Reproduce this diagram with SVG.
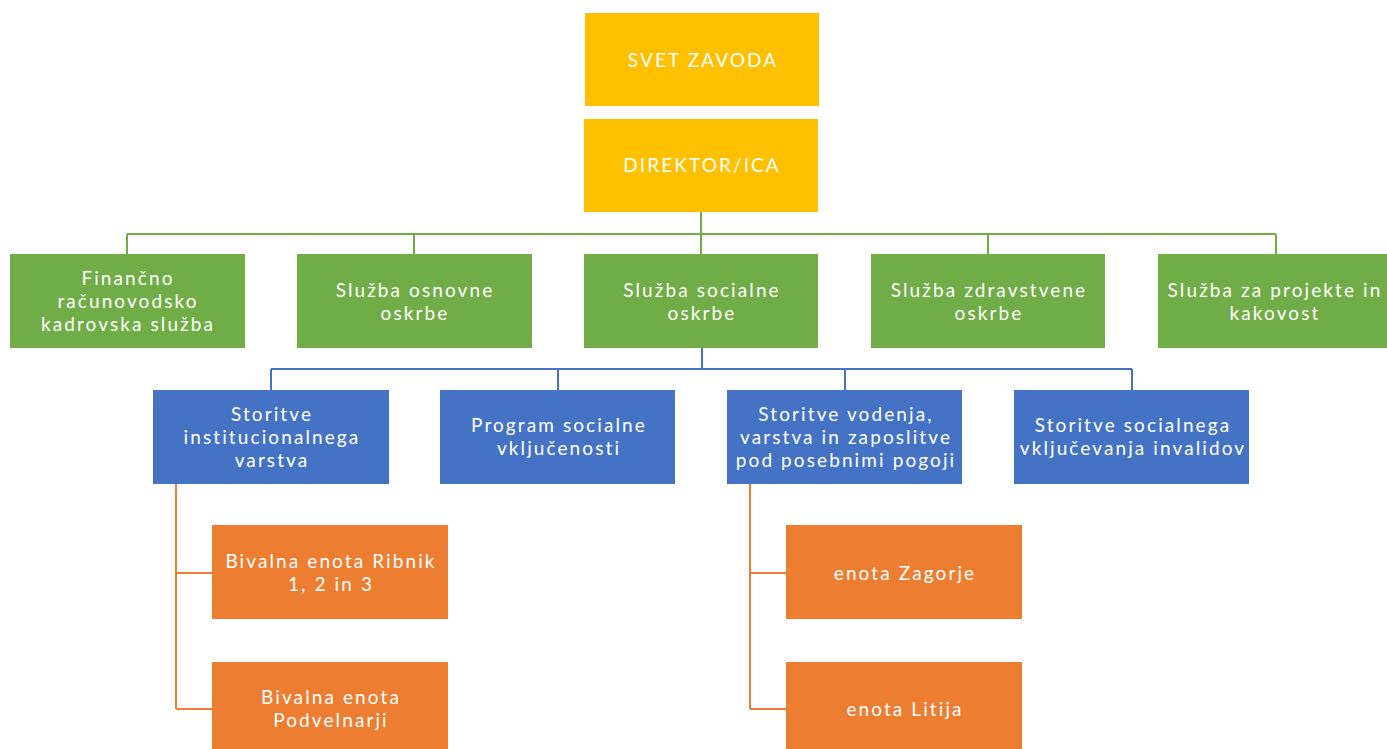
<svg xmlns="http://www.w3.org/2000/svg" width="1387" height="749" viewBox="0 0 1387 749">
<style>
text{font-family:Lato,"Open Sans","DejaVu Sans",sans-serif;font-size:19px;fill:#fff;text-anchor:middle;dominant-baseline:central;letter-spacing:2.1px}
.gold{fill:#FFC000}
.green{fill:#70AD47}
.blue{fill:#4472C4}
.orange{fill:#ED7D31}
.lg{stroke:#70AD47;stroke-width:2;fill:none}
.lb{stroke:#4472C4;stroke-width:2;fill:none}
.lo{stroke:#ED7D31;stroke-width:2;fill:none}
</style>
<rect width="1387" height="749" fill="#fff"/>
<g id="connectors">
<path class="lg" d="M701 212V254M127 234H1276M127 234V254M414 234V254M988 234V254M1276 234V254"/>
<path class="lb" d="M702 348V369M271 369H1132M271 369V390M558 369V390M845 369V390M1132 369V390"/>
<path class="lo" d="M176 484V709M176 573H212M176 709H212"/>
<path class="lo" d="M750 484V709M750 573H786M750 709H786"/>
</g>
<g id="svet"><rect class="gold" x="585" y="13" width="234" height="93"/><text x="703" y="59">SVET ZAVODA</text></g>
<g id="direktor"><rect class="gold" x="584" y="119" width="234" height="93"/><text x="702" y="164">DIREKTOR/ICA</text></g>
<g id="financno"><rect class="green" x="10" y="254" width="235" height="94"/><text x="128" y="277">Finančno</text><text x="128" y="300">računovodsko</text><text x="128" y="323">kadrovska služba</text></g>
<g id="osnovne"><rect class="green" x="297" y="254" width="235" height="94"/><text x="415" y="289">Služba osnovne</text><text x="415" y="312">oskrbe</text></g>
<g id="socialne"><rect class="green" x="584" y="254" width="234" height="94"/><text x="702" y="289">Služba socialne</text><text x="702" y="312">oskrbe</text></g>
<g id="zdravstvene"><rect class="green" x="871" y="254" width="234" height="94"/><text x="989" y="289">Služba zdravstvene</text><text x="989" y="312">oskrbe</text></g>
<g id="projekte"><rect class="green" x="1158" y="254" width="229" height="94"/><text x="1275" y="289">Služba za projekte in</text><text x="1275" y="312">kakovost</text></g>
<g id="institucionalnega"><rect class="blue" x="153" y="390" width="236" height="94"/><text x="272" y="413">Storitve</text><text x="272" y="436">institucionalnega</text><text x="272" y="459">varstva</text></g>
<g id="program"><rect class="blue" x="440" y="390" width="235" height="94"/><text x="559" y="424">Program socialne</text><text x="559" y="447">vključenosti</text></g>
<g id="vodenja"><rect class="blue" x="727" y="390" width="235" height="94"/><text x="846" y="413">Storitve vodenja,</text><text x="846" y="436">varstva in zaposlitve</text><text x="846" y="459">pod posebnimi pogoji</text></g>
<g id="invalidov"><rect class="blue" x="1014" y="390" width="235" height="94"/><text x="1133" y="424">Storitve socialnega</text><text x="1133" y="447">vključevanja invalidov</text></g>
<g id="ribnik"><rect class="orange" x="212" y="525" width="236" height="94"/><text x="331" y="560">Bivalna enota Ribnik</text><text x="331" y="583">1, 2 in 3</text></g>
<g id="podvelnarji"><rect class="orange" x="212" y="662" width="236" height="94"/><text x="331" y="696">Bivalna enota</text><text x="331" y="719">Podvelnarji</text></g>
<g id="zagorje"><rect class="orange" x="786" y="525" width="236" height="94"/><text x="905" y="572">enota Zagorje</text></g>
<g id="litija"><rect class="orange" x="786" y="662" width="236" height="94"/><text x="905" y="708">enota Litija</text></g>
</svg>
